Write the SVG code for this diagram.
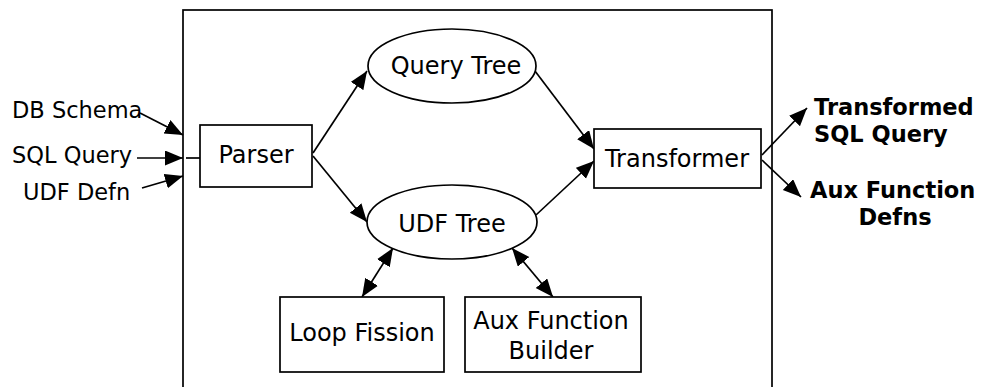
<svg xmlns="http://www.w3.org/2000/svg" width="986" height="387" viewBox="0 0 986 387">
<style>
.box{fill:#fff;stroke:#000;stroke-width:1.7}
.frame{fill:none;stroke:#000;stroke-width:1.7}
.t{font-family:"DejaVu Sans",sans-serif;font-size:24px;fill:#000;text-anchor:middle}
.lbl{font-family:"DejaVu Sans",sans-serif;font-size:22.5px;fill:#000}
.out{font-family:"DejaVu Sans",sans-serif;font-size:22.5px;font-weight:bold;fill:#000}
.c{stroke:#000;stroke-width:1.7;fill:none;marker-end:url(#ah)}
.bi{marker-start:url(#ah)}
</style>
<defs>
<marker id="ah" markerUnits="userSpaceOnUse" markerWidth="19" markerHeight="16" refX="18" refY="7.5" orient="auto-start-reverse">
<path d="M0,0 L18,7.5 L0,15 z" fill="#000"/>
</marker>
</defs>
<rect x="0" y="0" width="986" height="387" fill="#fff"/>
<g id="frame"><rect class="frame" x="183" y="10" width="589" height="400"/></g>
<g id="connectors">
<line class="c" x1="140" y1="113" x2="183" y2="135"/>
<line class="c" x1="137" y1="158" x2="183" y2="158"/>
<line class="c" x1="142" y1="188" x2="183" y2="176"/>
<line x1="186" y1="158" x2="200" y2="158" stroke="#000" stroke-width="1.7"/>
<line class="c" x1="313" y1="153" x2="367" y2="71"/>
<line class="c" x1="313" y1="156" x2="367" y2="222"/>
<line class="c" x1="535" y1="71" x2="594" y2="149"/>
<line class="c" x1="536" y1="215" x2="594" y2="161"/>
<line class="c" x1="762" y1="155" x2="807" y2="108"/>
<line class="c" x1="762" y1="160" x2="801" y2="197"/>
<line class="c bi" x1="393" y1="248" x2="362" y2="297"/>
<line class="c bi" x1="512" y1="248" x2="553" y2="297"/>
</g>
<g id="parser"><rect class="box" x="200" y="125" width="112" height="62"/><text class="t" x="256" y="163">Parser</text></g>
<g id="querytree"><ellipse class="box" cx="452" cy="66" rx="84" ry="37"/><text class="t" x="456" y="74">Query Tree</text></g>
<g id="udftree"><ellipse class="box" cx="452" cy="222" rx="85" ry="37"/><text class="t" x="452" y="232">UDF Tree</text></g>
<g id="transformer"><rect class="box" x="594" y="129" width="167" height="59"/><text class="t" x="677" y="167">Transformer</text></g>
<g id="loopfission"><rect class="box" x="280" y="297" width="164" height="75"/><text class="t" x="362" y="341">Loop Fission</text></g>
<g id="auxbuilder"><rect class="box" x="465" y="297" width="176" height="75"/><text class="t" x="551" y="329">Aux Function</text><text class="t" x="551" y="359">Builder</text></g>
<g id="inputs">
<text class="lbl" x="12" y="118">DB Schema</text>
<text class="lbl" x="12" y="163">SQL Query</text>
<text class="lbl" x="23" y="200">UDF Defn</text>
</g>
<g id="outputs">
<text class="out" x="814" y="115">Transformed</text>
<text class="out" x="814" y="142">SQL Query</text>
<text class="out" x="810" y="198">Aux Function</text>
<text class="out" x="895" y="225" text-anchor="middle">Defns</text>
</g>
</svg>
